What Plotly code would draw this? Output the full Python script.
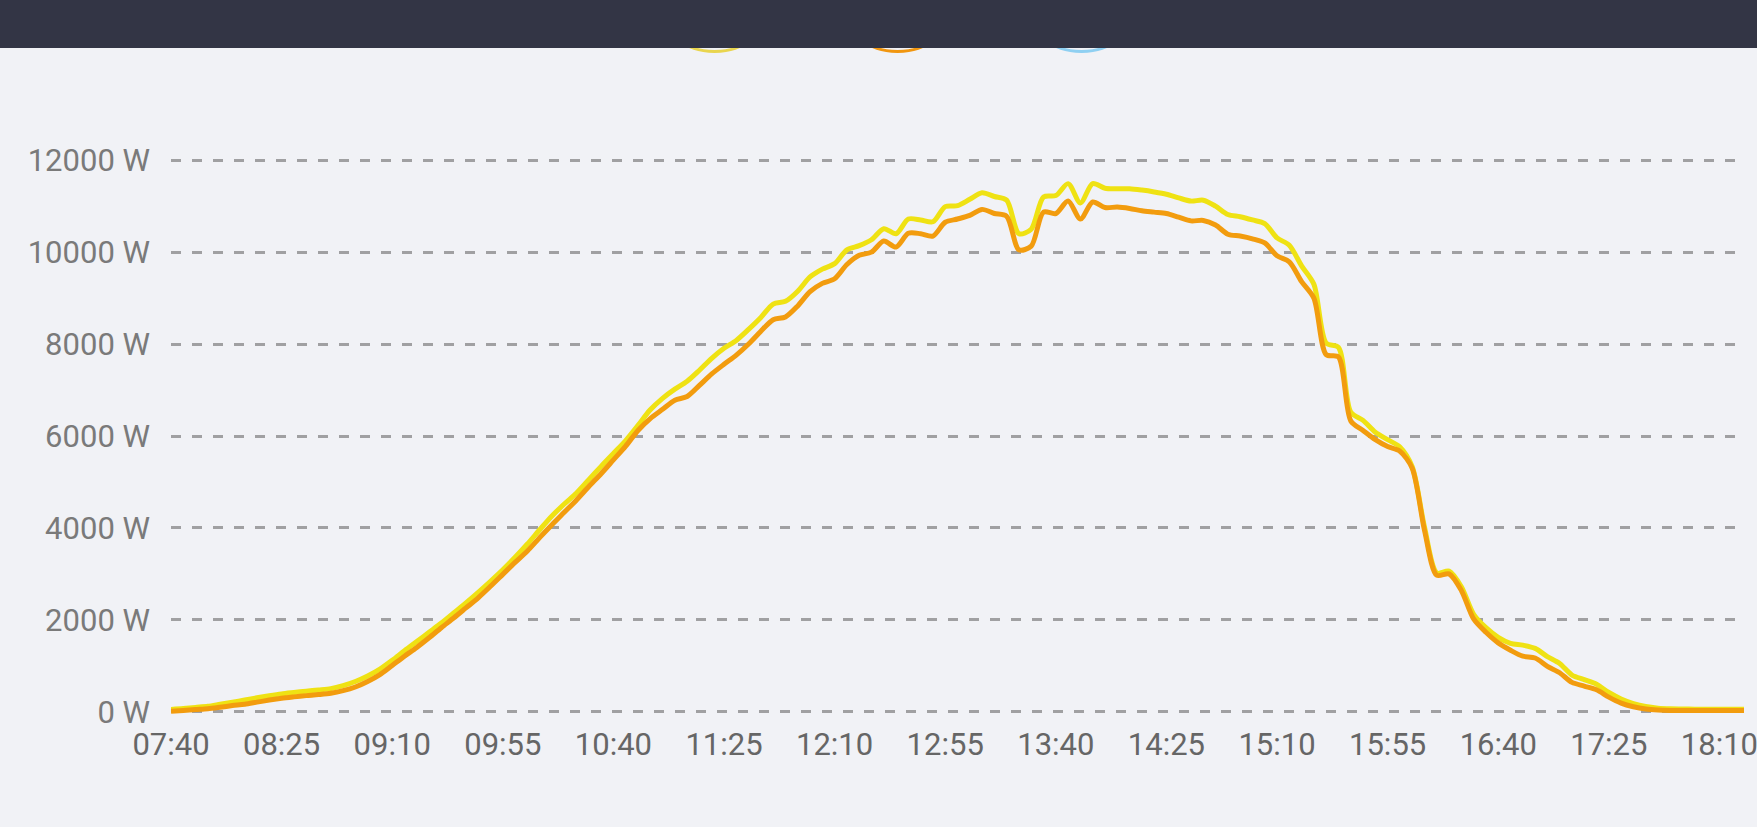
import pandas as pd
import plotly.graph_objects as go

# 5-minute samples from 07:40 to 18:20
times = pd.date_range("2024-06-01 07:40", "2024-06-01 18:20", freq="5min")

pv_power = [
    50, 70, 95, 120, 165, 210, 255, 305, 350, 390, 420, 448, 475, 505, 570, 660, 780, 930,
    1120, 1330, 1530, 1730, 1930, 2150, 2370, 2600, 2840, 3090, 3360, 3650, 3960, 4260,
    4520, 4760, 5050, 5340, 5620, 5900, 6230, 6570, 6820, 7020, 7190, 7430, 7690, 7910,
    8080, 8320, 8580, 8870, 8930, 9150, 9460, 9630, 9750, 10050, 10140, 10270, 10510,
    10400, 10720, 10700, 10660, 10990, 11010, 11150, 11290, 11210, 11130, 10400, 10500,
    11200, 11230, 11490, 11070, 11490, 11390, 11380, 11380, 11350, 11310, 11260, 11180,
    11110, 11130, 11000, 10820, 10770, 10700, 10620, 10310, 10150, 9700, 9300, 8020, 7930,
    6520, 6340, 6080, 5920, 5760, 5330, 4020, 3020, 3060, 2720, 2120, 1830, 1620, 1490,
    1450, 1380, 1200, 1050, 800, 700, 600, 420, 280, 180, 115, 80, 65, 60, 58, 55, 55, 55, 55,
]

ac_power = [
    10, 30, 50, 68, 100, 135, 165, 210, 255, 295, 325, 352, 375, 405, 460, 540, 660, 810,
    1010, 1210, 1400, 1610, 1830, 2040, 2260, 2480, 2730, 2990, 3250, 3500, 3790, 4070,
    4340, 4610, 4900, 5180, 5480, 5780, 6120, 6380, 6580, 6780, 6860, 7100, 7350, 7560,
    7760, 8000, 8280, 8530, 8590, 8830, 9140, 9320, 9420, 9730, 9930, 10000, 10240,
    10110, 10410, 10400, 10350, 10650, 10720, 10800, 10930, 10840, 10780, 10050, 10130,
    10870, 10840, 11110, 10720, 11090, 10970, 10980, 10950, 10900, 10870, 10840, 10760,
    10680, 10690, 10590, 10390, 10350, 10290, 10200, 9920, 9790, 9360, 9000, 7770, 7720,
    6330, 6120, 5920, 5770, 5670, 5300, 3950, 2970, 3000, 2640, 2020, 1730, 1500, 1340,
    1210, 1170, 990, 850, 640, 560, 480, 320, 190, 110, 60, 38, 30, 27, 26, 26, 26, 26, 26,
]

y_ticks = [0, 2000, 4000, 6000, 8000, 10000, 12000]
y_labels = [f"{v} W" for v in y_ticks]

W, H = 1757, 827
ML, MR, MT, MB = 171.4, 12.5, 151.0, 106.3
PW, PH = W - ML - MR, H - MT - MB


def px_x(x):
    return (x - ML) / PW


def px_y(y):
    return (H - MB - y) / PH


fig = go.Figure()
fig.add_trace(go.Scatter(
    x=times, y=pv_power, mode="lines",
    line=dict(color="#efe213", width=5, shape="spline", smoothing=0.8),
    hoverinfo="skip", showlegend=False,
))
fig.add_trace(go.Scatter(
    x=times, y=ac_power, mode="lines",
    line=dict(color="#f29c0e", width=5, shape="spline", smoothing=0.8),
    hoverinfo="skip", showlegend=False,
))

shapes = []
for cx, col in [(715, "#e9d54e"), (898, "#f1960f"), (1082, "#8fd0f2")]:
    shapes.append(dict(
        type="circle", xref="paper", yref="paper", layer="above",
        x0=px_x(cx - 29), x1=px_x(cx + 29), y0=px_y(51.5), y1=px_y(31),
        line=dict(color=col, width=3), fillcolor="rgba(0,0,0,0)",
    ))
shapes.append(dict(
    type="rect", xref="paper", yref="paper", layer="above",
    x0=-0.3, x1=1.3, y0=px_y(48), y1=px_y(-20),
    fillcolor="#333545", line=dict(width=0),
))

fig.update_layout(
    width=W, height=H,
    margin=dict(l=ML, r=MR, t=MT, b=MB, autoexpand=False),
    paper_bgcolor="#f1f2f6", plot_bgcolor="#f1f2f6",
    font=dict(family="Roboto", size=31, color="#757575"),
    shapes=shapes,
    xaxis=dict(
        type="date",
        range=[times[0], times[-1]],
        tick0=times[0], dtick=45 * 60 * 1000, tickformat="%H:%M",
        showgrid=False, zeroline=False, showline=False, ticks="",
        ticklabelstandoff=2, automargin=False, ticklabeloverflow="allow",
        tickfont=dict(family="Roboto", size=31, color="#666666"),
    ),
    yaxis=dict(
        range=[-200, 12200],
        tickvals=y_ticks, ticktext=y_labels,
        showgrid=True, gridcolor="#a0a0a2", gridwidth=2.5, griddash="10px,11px",
        zeroline=False, showline=False, ticks="",
        ticklabelstandoff=20, automargin=False, ticklabeloverflow="allow",
        tickfont=dict(family="Roboto", size=31, color="#7a7a7a"),
    ),
)

fig.write_html("out.html", config={"displayModeBar": False})

with open("out.html", "r", encoding="utf-8") as f:
    html = f.read()
html = html.replace("<body>", '<body style="margin:0;padding:0;background:#f1f2f6;overflow:hidden">', 1)
html = html.replace("<head>", "<head><style>html,body{margin:0;padding:0;}</style>", 1)
with open("out.html", "w", encoding="utf-8") as f:
    f.write(html)
